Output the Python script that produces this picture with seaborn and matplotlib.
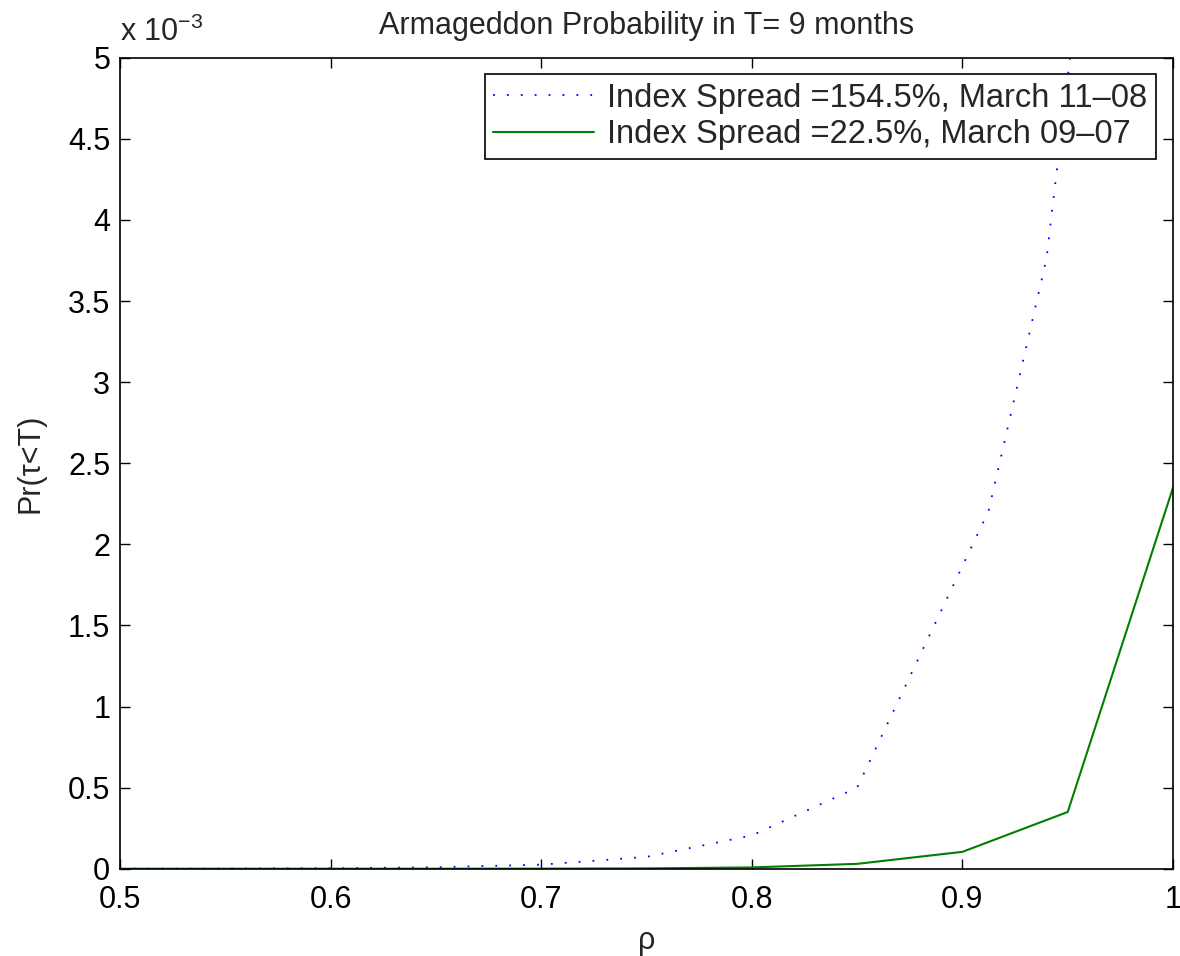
import numpy as np
import pandas as pd
import matplotlib
matplotlib.use("Agg")
import matplotlib.pyplot as plt
import seaborn as sns

# values, in units of 1e-3
rho_blue = [0.5, 0.55, 0.6, 0.65, 0.7, 0.75, 0.8, 0.85, 0.9124, 0.9399, 0.97]
pr_blue = [0.0003, 0.001, 0.003, 0.009, 0.025, 0.073, 0.205, 0.50, 2.205, 3.76, 7.1]

rho_green = [0.5, 0.55, 0.6, 0.65, 0.7, 0.75, 0.8, 0.85, 0.9, 0.95, 1.0]
pr_green = [0.0, 0.0, 0.0, 0.0, 0.0005, 0.002, 0.008, 0.03, 0.104, 0.35, 2.35]

label_blue = "Index Spread =154.5%, March 11\u201308"
label_green = "Index Spread =22.5%, March 09\u201307"

x_ticks = [0.5, 0.6, 0.7, 0.8, 0.9, 1.0]
x_ticklabels = ["0.5", "0.6", "0.7", "0.8", "0.9", "1"]
y_ticks = [0, 0.5, 1, 1.5, 2, 2.5, 3, 3.5, 4, 4.5, 5]
y_ticklabels = ["0", "0.5", "1", "1.5", "2", "2.5", "3", "3.5", "4", "4.5", "5"]

sns.set_style("ticks")
plt.rcParams["font.family"] = ["Liberation Sans", "DejaVu Sans"]
plt.rcParams["mathtext.fontset"] = "custom"
plt.rcParams["mathtext.rm"] = "Liberation Sans"
plt.rcParams["mathtext.it"] = "Liberation Sans"

df_blue = pd.DataFrame({"rho": rho_blue, "pr": np.array(pr_blue) * 1e-3})
df_green = pd.DataFrame({"rho": rho_green, "pr": np.array(pr_green) * 1e-3})

fs = 22

fig = plt.figure(figsize=(11.8, 9.56), dpi=100)
ax = fig.add_axes([0.1017, 0.0913, 0.8924, 0.8483])

sns.lineplot(data=df_blue, x="rho", y="pr", ax=ax, color="#0000ff",
             linewidth=1.3, linestyle=(0, (1, 6.7)), label=label_blue,
             estimator=None, sort=False)
sns.lineplot(data=df_green, x="rho", y="pr", ax=ax, color="#008000",
             linewidth=1.5, label=label_green, estimator=None, sort=False)

ax.set_xlim(0.5, 1.0)
ax.set_ylim(0, 5e-3)
ax.set_xticks(x_ticks)
ax.set_xticklabels(x_ticklabels)
ax.set_yticks(np.array(y_ticks) * 1e-3)
ax.set_yticklabels(y_ticklabels)

ax.tick_params(direction="in", length=7, width=1, labelsize=fs,
               top=True, right=True, colors="black")
ax.tick_params(axis="x", pad=12)
ax.tick_params(axis="y", pad=7)
for side in ["left", "right", "top", "bottom"]:
    ax.spines[side].set_visible(True)
    ax.spines[side].set_linewidth(1.2)
    ax.spines[side].set_color("black")

ax.set_xlabel("\u03c1", fontsize=fs, labelpad=8)
ax.set_ylabel("Pr(\u03c4<T)", fontsize=fs, labelpad=16)
ax.set_title("Armageddon Probability in T= 9 months", fontsize=fs, pad=17)
ax.text(0.0, 1.012, "x 10$^{-3}$", transform=ax.transAxes, fontsize=fs,
        ha="left", va="bottom")

leg = ax.legend(loc="upper right", bbox_to_anchor=(0.9835, 0.9795),
                fontsize=23.5, frameon=True, fancybox=False, handlelength=3.1,
                borderpad=0.25, labelspacing=0.18, handletextpad=0.4,
                borderaxespad=0)
leg.get_frame().set_edgecolor("black")
leg.get_frame().set_linewidth(1.2)
leg.get_frame().set_alpha(1)

fig.savefig("out.png", dpi=100)
